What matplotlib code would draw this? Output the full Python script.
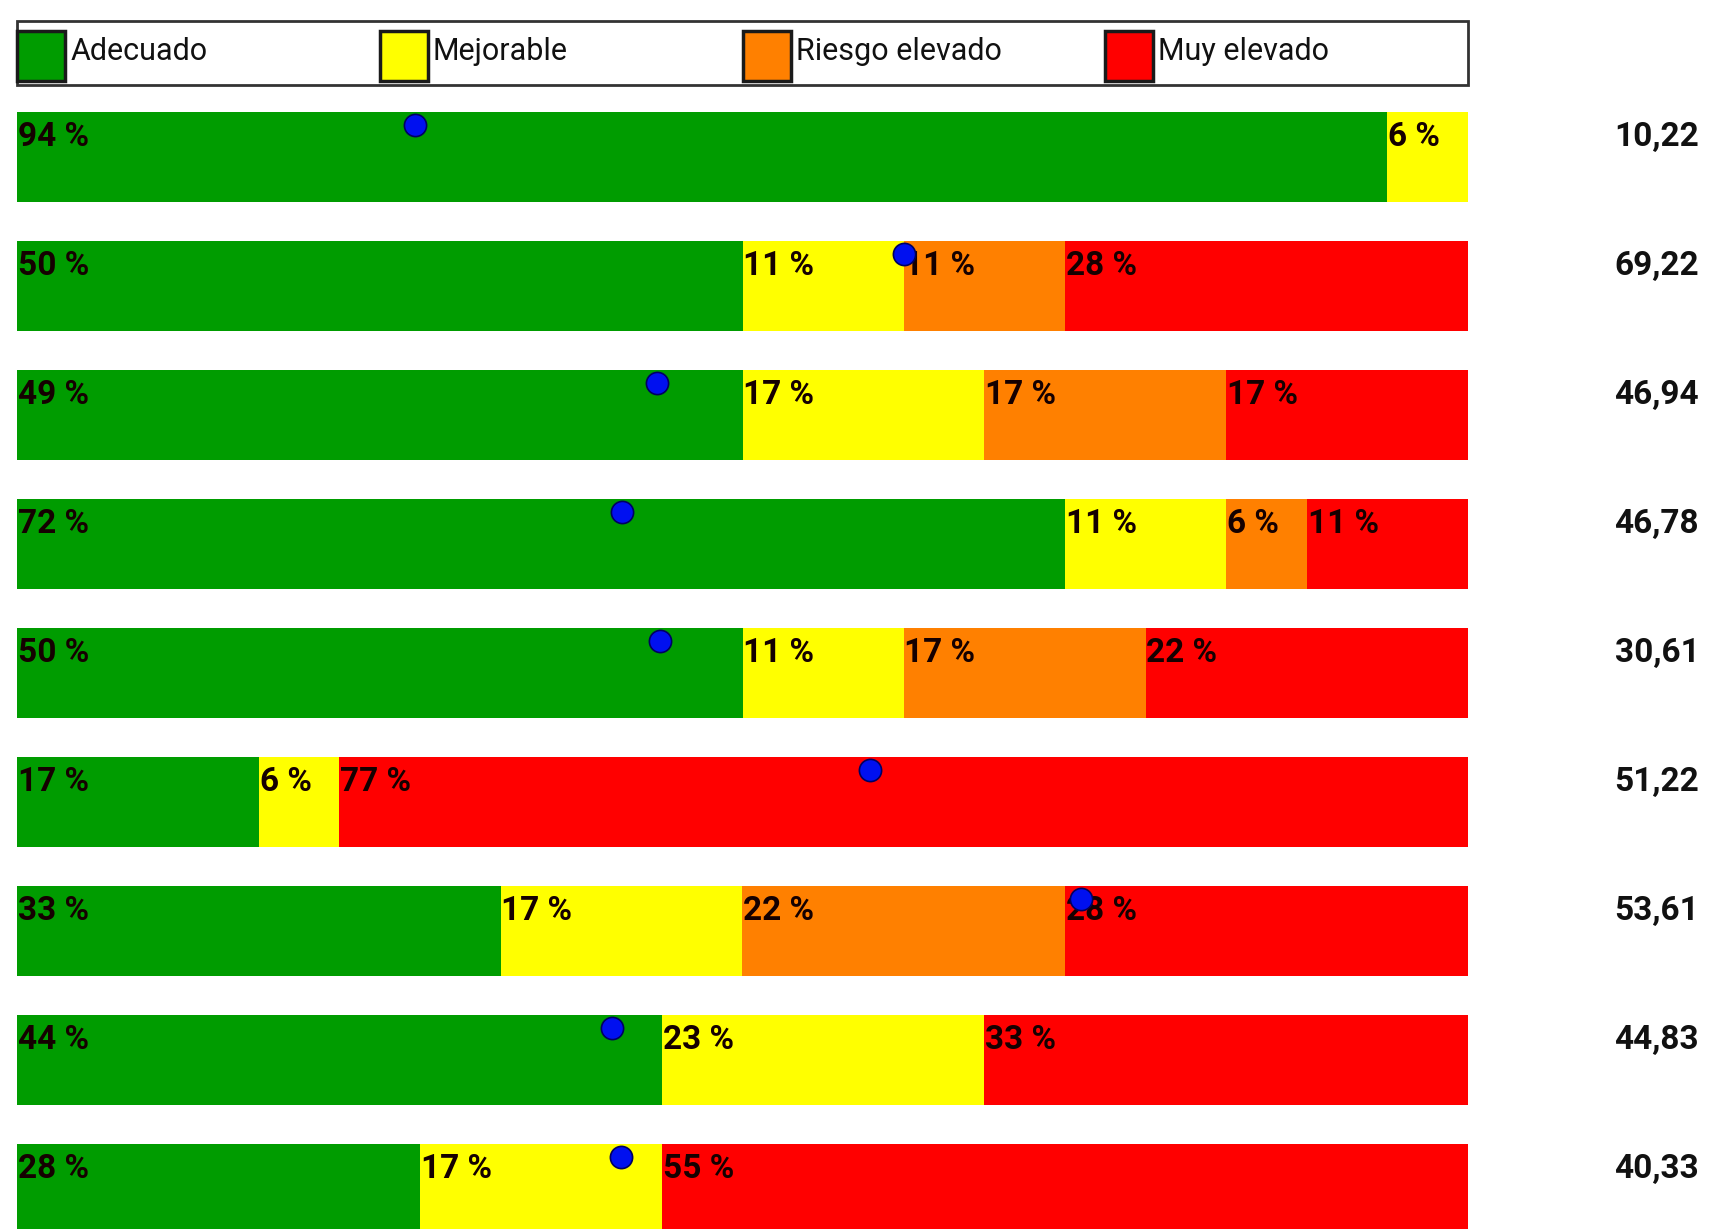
import matplotlib
matplotlib.use("Agg")
import matplotlib.pyplot as plt
from matplotlib.patches import Rectangle
import numpy as np

# categorias y colores
categorias = ["Adecuado", "Mejorable", "Riesgo elevado", "Muy elevado"]
colores = ["#009c00", "#ffff00", "#ff8000", "#ff0000"]

# numero de respuestas (de 18) por fila y categoria
adecuado = [17, 9, 9, 13, 9, 3, 6, 8, 5]
mejorable = [1, 2, 3, 2, 2, 1, 3, 4, 3]
riesgo = [0, 2, 3, 1, 3, 0, 4, 0, 0]
muy_elevado = [0, 5, 3, 2, 4, 14, 5, 6, 10]

# etiquetas tal como aparecen
et_adecuado = ["94 %", "50 %", "49 %", "72 %", "50 %", "17 %", "33 %", "44 %", "28 %"]
et_mejorable = ["6 %", "11 %", "17 %", "11 %", "11 %", "6 %", "17 %", "23 %", "17 %"]
et_riesgo = ["", "11 %", "17 %", "6 %", "17 %", "", "22 %", "", ""]
et_muy = ["", "28 %", "17 %", "11 %", "22 %", "77 %", "28 %", "33 %", "55 %"]

# punto azul (posicion en % de la barra) y valor de la derecha
puntos = [27.4, 61.1, 44.1, 41.7, 44.3, 58.8, 73.3, 41.0, 41.6]
valores = ["10,22", "69,22", "46,94", "46,78", "30,61", "51,22", "53,61", "44,83", "40,33"]

fuente = ["Roboto", "DejaVu Sans"]

W, H = 1712, 1229
fig = plt.figure(figsize=(W / 100, H / 100), dpi=100)
x0, x1 = 17, 1468
paso = 129.0
centro0 = 157.0
ax = fig.add_axes([x0 / W, 0, (x1 - x0) / W, 1])
ax.set_xlim(0, 100)
ax.set_ylim((H - centro0) / paso, -centro0 / paso)
ax.axis("off")

series = [adecuado, mejorable, riesgo, muy_elevado]
etiquetas = [et_adecuado, et_mejorable, et_riesgo, et_muy]
total = np.array(adecuado) + np.array(mejorable) + np.array(riesgo) + np.array(muy_elevado)
filas = np.arange(len(adecuado))
alto = 90 / paso

izq = np.zeros(len(filas))
for serie, color, ets in zip(series, colores, etiquetas):
    ancho = np.array(serie) / total * 100
    ax.barh(filas, ancho, left=izq, height=alto, color=color, linewidth=0)
    for i in filas:
        if ets[i]:
            ax.text(izq[i] + 0.05, i - 0.085, ets[i], fontsize=24, fontweight="bold",
                    family=fuente, color="#150000", va="baseline", ha="left", zorder=3)
    izq = izq + ancho

ax.plot(puntos, filas - 0.245, "o", color="#0010f0", markersize=16,
        markeredgecolor="#000060", markeredgewidth=1.2, zorder=5, clip_on=False)

for i in filas:
    ax.text(110.1, i - 0.085, valores[i], fontsize=24, fontweight="bold",
            family=fuente, color="#111111", va="baseline", ha="left", clip_on=False)

# leyenda dibujada a mano
ytop = (21 - centro0) / paso
ybot = (85 - centro0) / paso
ax.add_patch(Rectangle((0, ytop), 100, ybot - ytop, facecolor="white",
                       edgecolor="#333333", linewidth=2, clip_on=False))
px = 48 / (x1 - x0) * 100
for k, (cat, color) in enumerate(zip(categorias, colores)):
    xk = k * 25
    y_a = (31 - centro0) / paso
    y_b = (81 - centro0) / paso
    ax.add_patch(Rectangle((xk, y_a), px, y_b - y_a, facecolor=color,
                           edgecolor="#1a1a1a", linewidth=2.5, clip_on=False))
    ax.text(xk + px + 0.35, (60 - centro0) / paso, cat, fontsize=22,
            family=fuente, color="#111111", va="baseline", ha="left")

fig.savefig("out.png", dpi=100, facecolor="white")
